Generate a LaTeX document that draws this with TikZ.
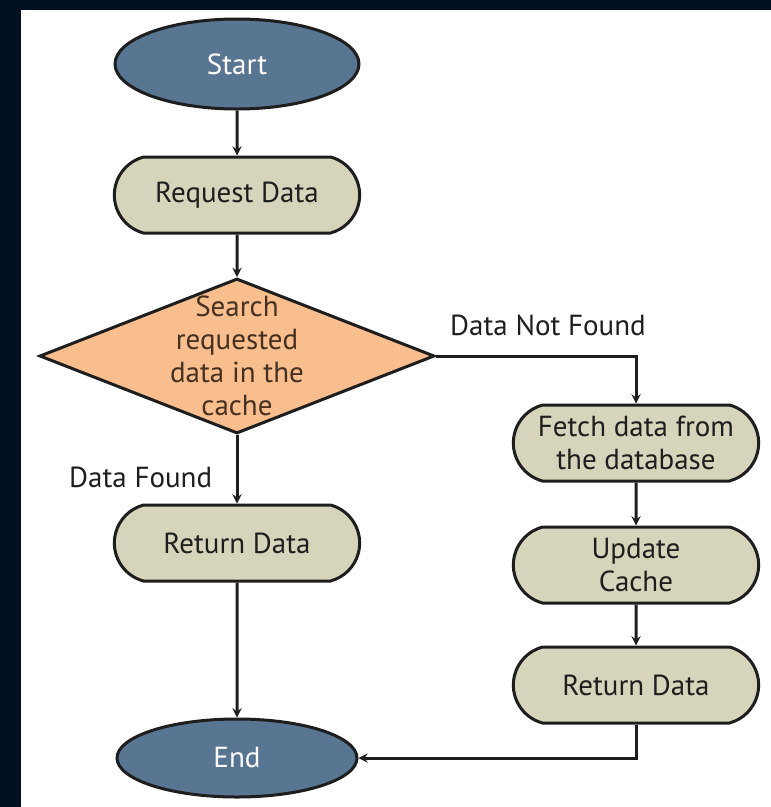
\documentclass[tikz,border=0pt]{standalone}
\usepackage{fontspec}
\setmainfont{PT Sans}
\usepackage{xcolor}
\usepackage{tikz}
\usetikzlibrary{shapes,arrows,positioning}

\definecolor{framenavy}{RGB}{2,15,33}
\definecolor{termblue}{RGB}{88,117,146}
\definecolor{stepkhaki}{RGB}{214,212,186}
\definecolor{decpeach}{RGB}{249,190,142}
\definecolor{inkgrey}{RGB}{30,30,30}
\definecolor{decbrown}{RGB}{70,48,32}

\begin{document}
\begin{tikzpicture}[x=1pt, y=-1pt,
    font=\fontsize{29}{33}\selectfont,
    terminal/.style={ellipse, draw=inkgrey, line width=3pt, fill=termblue, text=white, minimum width=244pt, minimum height=90pt},
    process/.style={rounded rectangle, rounded rectangle arc length=150, draw=inkgrey, line width=3pt, fill=stepkhaki, text=inkgrey, align=center, minimum width=252pt, minimum height=76pt},
    decision/.style={diamond, draw=inkgrey, line width=3pt, fill=decpeach, minimum width=395pt, minimum height=155pt, inner sep=0pt},
    arrow/.style={line width=3pt, draw=inkgrey, ->, >=stealth}
]

% Frame
\fill[framenavy] (0,0) rectangle (771,807);
\fill[white] (21,10) rectangle (771,807);

% Main column
\node[terminal] (start) at (237,64) {Start};
\node[process] (request) at (237,195) {Request Data};
\node[decision, label={[text=decbrown, align=center]center:Search\\requested\\data in the\\cache}] (search) at (237,356) {};
\node[process] (returnA) at (237,543) {Return Data};
\node[terminal, minimum width=240pt, minimum height=78pt] (end) at (237,758) {End};

% Miss branch
\node[process] (fetch) at (636,443) {Fetch data from\\the database};
\node[process] (update) at (636,565) {Update\\Cache};
\node[process] (returnB) at (636,685) {Return Data};

% Flow
\draw[arrow] (start) -- (request);
\draw[arrow] (request) -- (search);
\draw[arrow] (search.east) -| (fetch.north) node[pos=0.28, above=15pt, text=inkgrey] {Data Not Found};
\draw[arrow] (search.south) -- (returnA.north) node[pos=0.62, left=20pt, text=inkgrey] {Data Found};
\draw[arrow] (returnA) -- (end);
\draw[arrow] (fetch) -- (update);
\draw[arrow] (update) -- (returnB);
\draw[arrow] (returnB.south) |- (end.east);

\end{tikzpicture}
\end{document}
